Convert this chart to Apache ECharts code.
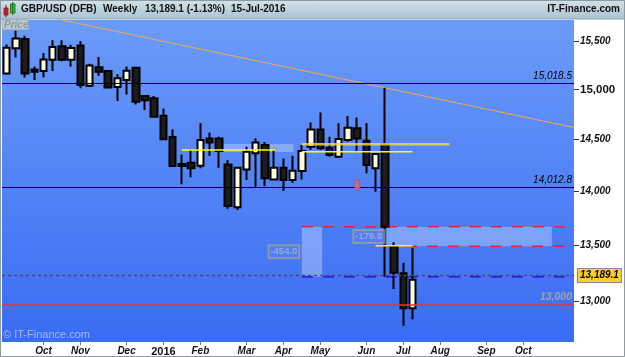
<!DOCTYPE html>
<html><head><meta charset="utf-8">
<script src="https://cdn.jsdelivr.net/npm/echarts@6/dist/echarts.min.js"></script>
<style>html,body{margin:0;padding:0;background:#fff}#c{width:625px;height:357px}</style>
</head><body><div id="c"></div>
<script>
// ---------- DATA ----------
const startWeek = '2015-09-11';     // first weekly candle (Friday)
const weeksOnAxis = 62;             // axis extends into the future
const opens  = [15165,15424,15521,15206,15189,15305,15445,15305,15455,15038,15227,15189,15025,15096,15222,14934,14911,14736,14525,14262,14275,14246,14512,14512,14259,13851,14211,14366,14447,14115,14227,14109,14195,14430,14601,14421,14333,14496,14611,14489,14221,14457,13490.2,13246,12936];
const highs  = [15465,15608,15556,15237,15375,15510,15510,15461,15500,15264,15333,15195,15155,15237,15228,14945,14934,14810,14601,14356,14408,14661,14571,14528,14301,14236,14430,14512,14476,14398,14317,14343,14447,14670,14770,14528,14661,14733,14720,14661,14365,15018.5,13526,13341,13477];
const lows   = [15150,15330,15124,15096,15124,15189,15290,15233,15012,15025,15140,15015,14883,14951,14850,14793,14720,14495,14235,14068,14135,14221,14343,14227,13837,13825,14109,14045,14052,14110,14004,14083,14115,14398,14398,14333,14320,14480,14381,14173,13997,13216,13106,12784,12840];
const closes = [15430,15528,15165,15181,15309,15437,15305,15427,15045,15247,15181,15020,15114,15192,14876,14893,14726,14503,14243,14243,14221,14496,14473,14388,13863,14227,14381,14473,14125,14227,14109,14198,14388,14601,14415,14349,14506,14617,14512,14253,14359,13670,13251,12936,13189.1];

const yTicks = [13000,13500,14000,14500,15000,15500];
const yRange = [12644, 15723];
const monthAbbr = ['Jan','Feb','Mar','Apr','May','Jun','Jul','Aug','Sep','Oct','Nov','Dec'];

const levelLines = [15018.5, 14012.8];
const roundLevel = 13000;
const lastClose = 13189.1;
const changePct = '-1.13%';
const lastDate = '15-Jul-2016';

// trend line: [week index, price]
const trendPts = [[0, 15847], [61.5, 14620]];
// measurement tool
const measTop = 13670.0, measLow1 = 13216.0, measLow2 = 13490.2;
const meas1 = {start:32, end:34.2};      // week index span of vertical box
const meas2 = {start:41.2, end:59.1};    // week index span of horizontal box
const redDash = [[32, measTop], [41, measLow2]];
const blueDash = [[32, measLow1]];
// yellow horizontal segments: [fromWeek, toWeek, price]
const yellowSegs = [[19, 29.1, 14398], [32, 44, 14381], [40, 44, 13496]];
const yellowBand = [32, 48, 14454];
const lightZone = [23.5, 31.1, 14457, 14378];
const arrowPt = [38, 14056];

// ---------- HELPERS ----------
const L = Math.log;
function fmt(v, d){ const s = Math.abs(v).toFixed(d); const parts = s.split('.');
  const w = parts[0].replace(/\B(?=(\d{3})+(?!\d))/g, ',');
  return (v<0?'-':'') + w + (parts[1]!==undefined ? '.'+parts[1] : ''); }

const DAY = 86400000;
const cats = [];
const t0 = Date.parse(startWeek + 'T00:00:00Z');
for (let i=0;i<weeksOnAxis;i++) cats.push(new Date(t0 + i*7*DAY).toISOString().slice(0,10));
function weekLabel(i){
  if (i===0 || i===weeksOnAxis-1) return '';
  const m = new Date(Date.parse(cats[i]+'T00:00:00Z') - 4*DAY);
  const p = new Date(Date.parse(cats[i-1]+'T00:00:00Z') - 4*DAY);
  if (m.getUTCMonth() === p.getUTCMonth()) return '';
  return m.getUTCMonth()===0 ? '{yr|' + m.getUTCFullYear() + '}' : monthAbbr[m.getUTCMonth()];
}
const candles = opens.map((o,i)=>[L(o), L(closes[i]), L(lows[i]), L(highs[i])]);
const FONT = '"Liberation Sans", Arial, sans-serif';

function seg(x1, x2, p){ return [[x1, L(p)], [x2, L(p)]]; }

const series = [];
// horizontal level lines
series.push({
  type:'line', xAxisIndex:1, data:[], z:1, silent:true,
  markLine:{ symbol:['none','none'], silent:true, animation:false, data:[
    ...levelLines.map(v=>({yAxis:L(v), lineStyle:{color:'#000', width:1, type:'solid'},
      label:{show:true, position:'insideEndTop', formatter:fmt(v,1), color:'#000', fontSize:10, fontStyle:'italic', fontFamily:FONT, distance:2}})),
    {yAxis:L(roundLevel), lineStyle:{color:'#ff2a2a', width:1.5, type:'solid'},
      label:{show:true, position:'insideEndTop', formatter:fmt(roundLevel,0), color:'#a3a3a3', fontSize:10.5, fontStyle:'italic', fontWeight:'bold', fontFamily:FONT, distance:2}},
    {yAxis:L(lastClose), lineStyle:{color:'#5c5000', width:1.3, type:[3,3]},
      label:{show:true, position:'end', formatter:fmt(lastClose,1), color:'#000', fontSize:10, fontStyle:'italic', fontWeight:'bold', fontFamily:FONT,
        backgroundColor:'#ffd21c', borderColor:'#8a8a8a', borderWidth:1, padding:[2,2,1,2], distance:4}}
  ]}
});
// light areas
series.push({
  type:'line', xAxisIndex:1, data:[], z:1, silent:true,
  markArea:{ silent:true, itemStyle:{color:'rgba(200,218,255,0.42)'}, data:[
    [{xAxis:meas1.start, yAxis:L(measTop)}, {xAxis:meas1.end, yAxis:L(measLow1)}],
    [{xAxis:meas2.start, yAxis:L(measTop)}, {xAxis:meas2.end, yAxis:L(measLow2)}],
    [{xAxis:lightZone[0], yAxis:L(lightZone[2])}, {xAxis:lightZone[1], yAxis:L(lightZone[3])}]
  ]}
});
// trend line
series.push({type:'line', xAxisIndex:1, data:trendPts.map(p=>[p[0], L(p[1])]), symbol:'none', z:2, silent:true,
  lineStyle:{color:'#f3a94c', width:1}});
// dashed measurement lines
redDash.forEach(d=>series.push({type:'line', xAxisIndex:1, data:seg(d[0], weeksOnAxis-0.5, d[1]), symbol:'none', z:2, silent:true,
  lineStyle:{color:'#e8232b', width:1.5, type:[11,10]}}));
blueDash.forEach(d=>series.push({type:'line', xAxisIndex:1, data:seg(d[0], weeksOnAxis-0.5, d[1]), symbol:'none', z:2, silent:true,
  lineStyle:{color:'#1432d8', width:2, type:[11,10]}}));
// candles
series.push({type:'candlestick', xAxisIndex:0, data:candles, barWidth:7, z:3, silent:true,
  itemStyle:{color:'#fdfbe0', color0:'#1d1d1d', borderColor:'#000', borderColor0:'#000', borderWidth:2}});
// yellow lines
series.push({type:'line', xAxisIndex:1, data:seg(yellowBand[0], yellowBand[1], yellowBand[2]), symbol:'none', z:4, silent:true,
  lineStyle:{color:'rgba(225,225,60,0.85)', width:2.5}});
yellowSegs.forEach(s=>series.push({type:'line', xAxisIndex:1, data:seg(s[0], s[1], s[2]), symbol:'none', z:4, silent:true,
  lineStyle:{color:'#ffff00', width:1.5}}));
// arrow
series.push({type:'scatter', xAxisIndex:0, data:[[arrowPt[0], L(arrowPt[1])]], z:5, silent:true,
  symbol:'path://M2,0 L6,0 L6,6 L8,6 L4,11 L0,6 L2,6 Z', symbolSize:[8,11],
  itemStyle:{color:'#f26b5b', borderColor:'#b23a36', borderWidth:0.6}});
// measurement labels
series.push({type:'scatter', xAxisIndex:1, z:5, silent:true, symbolSize:1, itemStyle:{color:'rgba(0,0,0,0)'},
  data:[
    {value:[meas1.start, (L(measTop)+L(measLow1))/2], name:fmt(measLow1-measTop,1)},
    {value:[meas2.start, (L(measTop)+L(measLow2))/2], name:fmt(measLow2-measTop,1)}
  ],
  label:{show:true, position:'left', distance:2, formatter:p=>p.name, color:'#a6b2c6', fontSize:9.5, fontWeight:'bold', fontFamily:FONT,
    backgroundColor:'rgba(255,255,255,0.06)', borderColor:'#9c9c94', borderWidth:1, padding:[2,2,1,2]}});

const yLbl = yTicks.map(L);
const option = {
  animation:false,
  backgroundColor:'#ffffff',
  textStyle:{fontFamily:FONT},
  grid:{left:2, top:20, width:572, height:322, show:true, borderWidth:0,
    backgroundColor:{type:'linear', x:0, y:0, x2:0, y2:1, colorStops:[{offset:0,color:'#6b9bf9'},{offset:1,color:'#3a6cf4'}]}},
  xAxis:[
    {type:'category', data:cats, boundaryGap:true, axisLine:{show:false, onZero:false}, splitLine:{show:false},
      axisTick:{show:true, alignWithLabel:true, interval:(i)=>weekLabel(i)!=='', length:3, lineStyle:{color:'#777'}},
      axisLabel:{interval:(i)=>weekLabel(i)!=='', formatter:(v,i)=>weekLabel(i), fontSize:10, fontWeight:'bold', fontStyle:'italic', color:'#111', margin:4, fontFamily:FONT,
        rich:{yr:{fontSize:11, fontWeight:'bold', fontStyle:'normal', color:'#111', fontFamily:FONT}}}},
    {type:'value', min:-0.5, max:weeksOnAxis-0.5, show:false, axisLine:{onZero:false}}
  ],
  yAxis:{type:'value', position:'right', min:L(yRange[0]), max:L(yRange[1]), axisLine:{show:false, onZero:false}, splitLine:{show:false},
    axisTick:{show:true, customValues:yLbl, length:5, lineStyle:{color:'#333'}},
    axisLabel:{customValues:yLbl, margin:6, fontSize:10, fontWeight:'bold', fontStyle:'italic', color:'#111', fontFamily:FONT,
      formatter:(v)=>{const p=Math.round(Math.exp(v)); const s=fmt(p,0); return p===15000 ? '{big|'+s+'}' : s;},
      rich:{big:{fontSize:11.5, fontWeight:'bold', fontStyle:'normal', color:'#111', fontFamily:FONT}}}},
  series:series,
  graphic:[
    {type:'rect', z:100, shape:{x:0,y:0,width:625,height:19}, style:{fill:{type:'linear',x:0,y:0,x2:0,y2:1,colorStops:[{offset:0,color:'#d3e2eb'},{offset:1,color:'#a9c2d1'}]}, stroke:'#8ea4b0', lineWidth:1}},
    {type:'rect', z:101, shape:{x:4,y:8,width:4,height:7}, style:{fill:'#e83030', stroke:'#801010', lineWidth:0.8}},
    {type:'line', z:101, shape:{x1:6,y1:5,x2:6,y2:17}, style:{stroke:'#801010', lineWidth:1}},
    {type:'rect', z:101, shape:{x:10.5,y:4,width:4.5,height:9}, style:{fill:'#30d040', stroke:'#106010', lineWidth:0.8}},
    {type:'line', z:101, shape:{x1:12.75,y1:2,x2:12.75,y2:15}, style:{stroke:'#106010', lineWidth:1}},
    {type:'text', z:101, x:21, y:9.5, style:{text:'GBP/USD (DFB)', font:'bold 10px '+FONT, fill:'#111', verticalAlign:'middle'}},
    {type:'text', z:101, x:103, y:9.5, style:{text:'Weekly', font:'bold 10px '+FONT, fill:'#111', verticalAlign:'middle'}},
    {type:'text', z:101, x:145, y:9.5, style:{text:fmt(lastClose,1)+' ('+changePct+')', font:'bold 10px '+FONT, fill:'#111', verticalAlign:'middle'}},
    {type:'text', z:101, x:231, y:9.5, style:{text:lastDate, font:'bold 10px '+FONT, fill:'#111', verticalAlign:'middle'}},
    {type:'text', z:101, x:620, y:9.5, style:{text:'IT-Finance.com', font:'bold 10px '+FONT, fill:'#111', verticalAlign:'middle', align:'right'}},
    {type:'rect', z:101, shape:{x:2,y:19.5,width:26,height:10}, style:{fill:'#bdc8ce', stroke:'#a3b0b8', lineWidth:1}},
    {type:'text', z:102, x:4, y:25, style:{text:'Price', font:'italic bold 10px '+FONT, fill:'#8d9ba5', verticalAlign:'middle'}},
    {type:'text', z:101, x:3, y:335, style:{text:'\u00a9 IT-Finance.com', font:'11px '+FONT, fill:'rgba(195,205,225,0.75)', verticalAlign:'middle'}},
    {type:'rect', z:110, shape:{x:0.5,y:0.5,width:624,height:356}, style:{fill:'none', stroke:'#8c9aa3', lineWidth:1}}
  ]
};
const chart = echarts.init(document.getElementById('c'), null, {renderer:'canvas'});
chart.setOption(option);
</script></body></html>
